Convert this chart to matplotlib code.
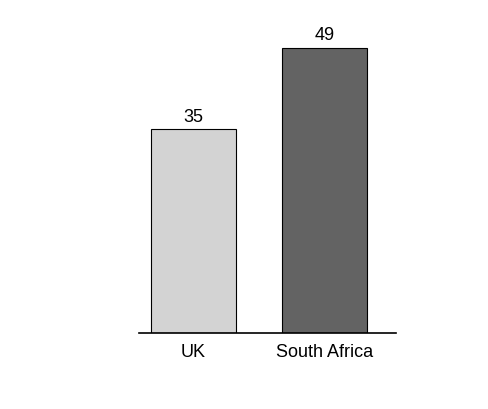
import matplotlib
matplotlib.use("Agg")
import matplotlib.pyplot as plt

countries = ["UK", "South Africa"]
values = [35, 49]
colors = ["#d3d3d3", "#636363"]

plt.rcParams["font.family"] = ["Liberation Sans", "DejaVu Sans"]

fig = plt.figure(figsize=(4.89, 4.09), dpi=100)
ax = fig.add_axes([0.284, 0.186, 0.526, 0.782])
x = list(range(len(countries)))
bars = ax.bar(x, values, width=0.65, color=colors, edgecolor="black", linewidth=0.8)
for b, v in zip(bars, values):
    ax.text(b.get_x() + b.get_width() / 2, v + 0.6, str(v),
            ha="center", va="bottom", fontsize=13)
ax.set_xlim(-0.416, 1.546)
ax.set_ylim(0, 55)
ax.set_xticks(x)
ax.set_xticklabels(countries, fontsize=13)
ax.tick_params(axis="x", length=0, pad=8)
ax.set_yticks([])
for s in ("left", "right", "top"):
    ax.spines[s].set_visible(False)
ax.spines["bottom"].set_linewidth(1.2)
fig.savefig("out.png")
